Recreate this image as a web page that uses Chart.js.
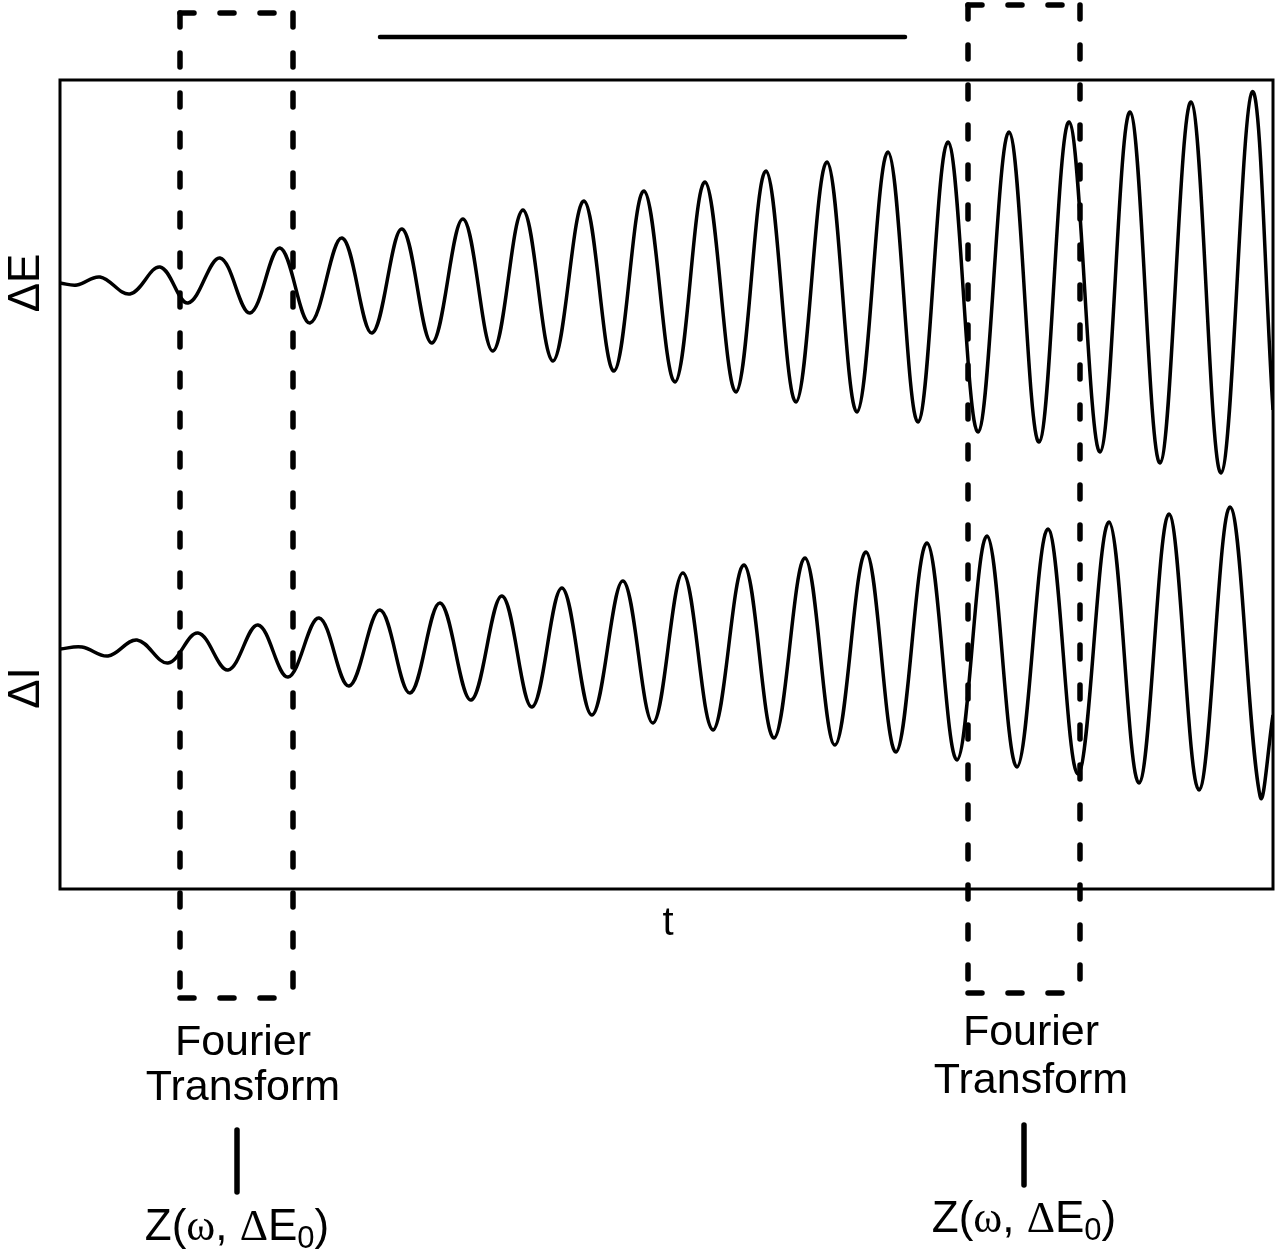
<!DOCTYPE html>
<html>
<head>
<meta charset="utf-8">
<script src="https://cdn.jsdelivr.net/npm/chart.js@4/dist/chart.umd.min.js"></script>
<style>
  body { margin: 0; background: #fff; }
  canvas { display: block; }
</style>
</head>
<body>
<canvas id="impedanceChart" width="1280" height="1253"></canvas>
<script>
// time axis (arbitrary units) and signal values: peaks and troughs
const eTimes = [0, 1.7, 4.0, 7.0, 10.0, 12.8, 16.0, 19.0, 22.0, 25.0, 28.2, 31.2, 34.2, 37.2, 40.3, 43.3, 46.3, 49.3, 52.4, 55.4, 58.4,
  61.5, 64.5, 67.6, 70.6, 73.6, 76.7, 79.7, 82.8, 85.8, 88.8, 91.8, 94.9, 97.9, 100.9, 104.0, 107.0, 110.0, 113.1, 116.1, 119.2, 121.3];
const eValues = [0.02, 0.00, 0.08, -0.09, 0.18, -0.18, 0.27, -0.28, 0.37, -0.38, 0.47, -0.48, 0.56, -0.58, 0.66, -0.66, 0.75, -0.76, 0.84, -0.86, 0.94,
  -0.97, 1.03, -1.07, 1.14, -1.17, 1.23, -1.27, 1.33, -1.37, 1.43, -1.47, 1.53, -1.57, 1.63, -1.67, 1.73, -1.78, 1.83, -1.88, 1.93, -1.25];

const iTimes = [0, 2.2, 4.8, 7.7, 10.8, 13.8, 16.8, 19.8, 22.8, 25.9, 28.9, 32.0, 35.0, 38.0, 41.1, 44.2, 47.2, 50.2, 53.2, 56.3, 59.3,
  62.3, 65.3, 68.4, 71.4, 74.5, 77.5, 80.6, 83.6, 86.7, 89.7, 92.7, 95.7, 98.8, 101.8, 104.9, 107.9, 110.9, 113.9, 117.0, 120.0, 121.3];
const iValues = [0.02, 0.04, -0.05, 0.11, -0.12, 0.18, -0.19, 0.26, -0.26, 0.33, -0.35, 0.41, -0.42, 0.48, -0.49, 0.55, -0.56, 0.63, -0.64, 0.70, -0.72,
  0.78, -0.79, 0.86, -0.87, 0.93, -0.94, 0.99, -1.01, 1.08, -1.09, 1.15, -1.16, 1.22, -1.23, 1.29, -1.32, 1.37, -1.39, 1.44, -1.45, -0.64];

// Fourier transform windows and the bar above the plot, in time units
const windowStarts = [12.0, 90.8];
const windowEnds = [23.3, 102.0];
const barSpan = [32.0, 84.5];

const SANS = '"Liberation Sans", Arial, sans-serif';
const SERIF = '"Liberation Serif", "Times New Roman", serif';

function toPoints(xs, ys) {
  return xs.map((t, i) => ({ x: t, y: ys[i] }));
}

function drawZ(ctx, cx, baseline) {
  const parts = [
    ['Z(', '44px ' + SANS, 0],
    ['\u03C9', '44px ' + SERIF, 0],
    [', ', '44px ' + SANS, 0],
    ['\u0394', '44px ' + SERIF, 0],
    ['E', '44px ' + SANS, 0],
    ['0', '31px ' + SANS, 8],
    [')', '44px ' + SANS, 0]
  ];
  let total = 0;
  parts.forEach(p => { ctx.font = p[1]; total += ctx.measureText(p[0]).width; });
  let xPos = cx - total / 2;
  ctx.textAlign = 'left';
  parts.forEach(p => {
    ctx.font = p[1];
    ctx.fillText(p[0], xPos, baseline + p[2]);
    xPos += ctx.measureText(p[0]).width;
  });
}

// frame, dashed windows, labels
const decorations = {
  id: 'decorations',
  afterDraw(chart) {
    const { ctx, chartArea: a } = chart;
    const x = chart.scales.x;
    ctx.save();
    ctx.strokeStyle = '#000';
    ctx.fillStyle = '#000';

    ctx.lineWidth = 3;
    ctx.strokeRect(a.left, a.top, a.right - a.left, a.bottom - a.top);

    // bar above the plot
    ctx.lineWidth = 4.5;
    ctx.lineCap = 'round';
    ctx.beginPath();
    ctx.moveTo(x.getPixelForValue(barSpan[0]), 37);
    ctx.lineTo(x.getPixelForValue(barSpan[1]), 37);
    ctx.stroke();

    // dashed windows
    const boxTop = [13, 5];
    const boxBottom = [998, 993];
    ctx.lineWidth = 5.5;
    ctx.setLineDash([14, 26]);
    windowStarts.forEach((s, i) => {
      const l = x.getPixelForValue(s);
      const r = x.getPixelForValue(windowEnds[i]);
      [[l, boxTop[i], l, boxBottom[i]], [r, boxTop[i], r, boxBottom[i]],
       [l, boxTop[i], r, boxTop[i]], [l, boxBottom[i], r, boxBottom[i]]].forEach(seg => {
        ctx.beginPath();
        ctx.moveTo(seg[0], seg[1]);
        ctx.lineTo(seg[2], seg[3]);
        ctx.stroke();
      });
    });
    ctx.setLineDash([]);

    // axis labels
    ctx.font = '40px ' + SANS;
    ctx.textAlign = 'center';
    ctx.fillText('t', 668, 935);
    ctx.font = '44px ' + SANS;
    [['\u0394E', 283], ['\u0394I', 688]].forEach(([txt, cy]) => {
      ctx.save();
      ctx.translate(39, cy);
      ctx.rotate(-Math.PI / 2);
      ctx.fillText(txt, 0, 0);
      ctx.restore();
    });

    // Fourier transform notes under each window
    const notes = [
      { cx: 243, first: 1055, second: 1100, barX: 237, barTop: 1130, barBottom: 1192, z: 1240 },
      { cx: 1031, first: 1045, second: 1093, barX: 1024, barTop: 1125, barBottom: 1185, z: 1232 }
    ];
    notes.forEach(n => {
      ctx.font = '43px ' + SANS;
      ctx.textAlign = 'center';
      ctx.fillText('Fourier', n.cx, n.first);
      ctx.fillText('Transform', n.cx, n.second);
      ctx.lineWidth = 5.5;
      ctx.beginPath();
      ctx.moveTo(n.barX, n.barTop);
      ctx.lineTo(n.barX, n.barBottom);
      ctx.stroke();
      drawZ(ctx, n.barX, n.z);
    });
    ctx.restore();
  }
};

const ctx = document.getElementById('impedanceChart').getContext('2d');
const impedanceChart = new Chart(ctx, {
  type: 'line',
  data: {
    datasets: [
      {
        label: '\u0394E',
        data: toPoints(eTimes, eValues),
        yAxisID: 'yE',
        borderColor: '#000',
        borderWidth: 3.5,
        pointRadius: 0,
        tension: 0.37,
        fill: false
      },
      {
        label: '\u0394I',
        data: toPoints(iTimes, iValues),
        yAxisID: 'yI',
        borderColor: '#000',
        borderWidth: 3.5,
        pointRadius: 0,
        tension: 0.37,
        fill: false
      }
    ]
  },
  options: {
    responsive: false,
    animation: false,
    devicePixelRatio: 1,
    layout: {
      padding: { left: 60, top: 80, right: 7, bottom: 364 }
    },
    plugins: {
      legend: { display: false },
      tooltip: { enabled: false }
    },
    scales: {
      x: { type: 'linear', min: 0, max: 121.3, display: false },
      yE: { type: 'linear', min: -6.04, max: 2.05, display: false },
      yI: { type: 'linear', min: -2.38, max: 5.71, display: false }
    }
  },
  plugins: [decorations]
});
</script>
</body>
</html>
